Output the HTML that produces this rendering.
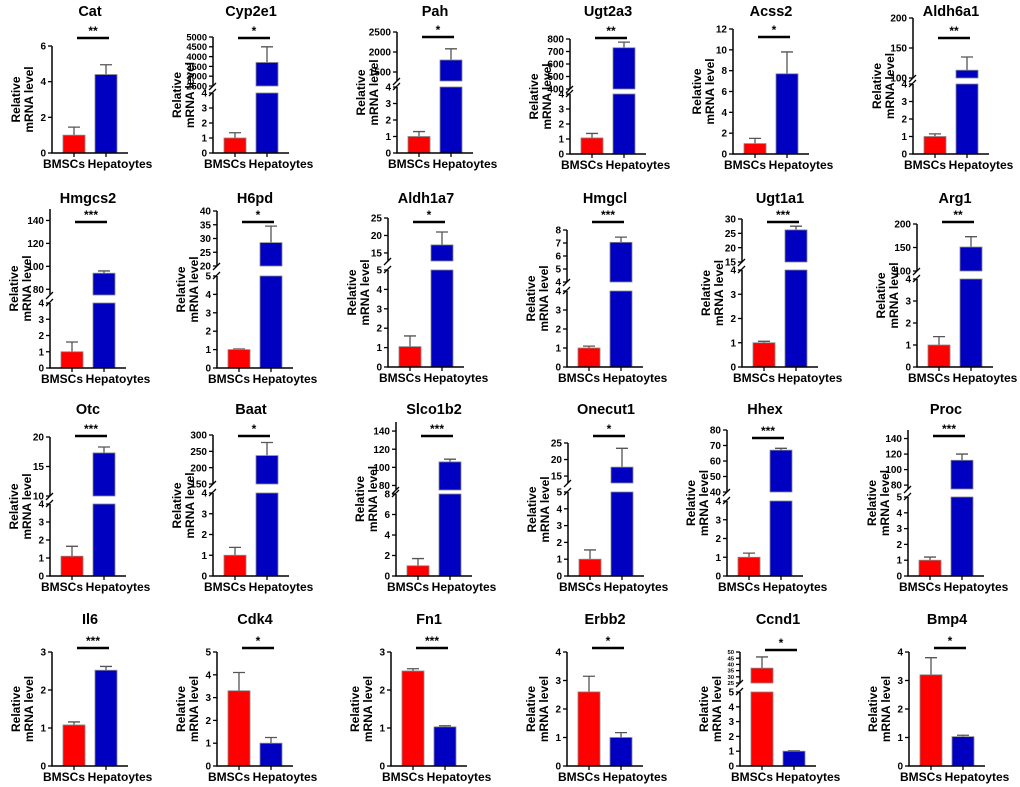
<!DOCTYPE html>
<html><head><meta charset="utf-8">
<style>
html,body{margin:0;padding:0;background:#fff;}
svg{display:block;font-family:"Liberation Sans",Arial,sans-serif;}
</style></head>
<body>
<svg id="fig" width="1020" height="787" viewBox="0 0 1020 787" xmlns="http://www.w3.org/2000/svg"></svg>
<script>
// ---- data ----
const genes = ["Cat","Cyp2e1","Pah","Ugt2a3","Acss2","Aldh6a1","Hmgcs2","H6pd","Aldh1a7","Hmgcl","Ugt1a1","Arg1","Otc","Baat","Slco1b2","Onecut1","Hhex","Proc","Il6","Cdk4","Fn1","Erbb2","Ccnd1","Bmp4"];
const sigs = ["**","*","*","**","*","**","***","*","*","***","***","**","***","*","***","*","***","***","***","*","***","*","*","*"];
const bmscMeans = [1.0,1.0,1.0,1.07,1.0,1.0,1.0,1.0,1.05,1.0,1.0,1.0,1.1,1.0,1.0,1.0,1.0,1.0,1.08,3.3,2.5,2.6,37,3.2];
const bmscErr   = [0.45,0.35,0.3,0.3,0.5,0.15,0.6,0.03,0.55,0.1,0.06,0.38,0.55,0.38,0.7,0.55,0.22,0.2,0.08,0.8,0.06,0.55,9,0.6];
const hepMeans  = [4.4,3700,1800,730,7.7,113,94,28.5,17.3,7.05,26.2,151,17.3,237,106,17.7,67,112,2.52,1.0,1.03,1.0,1.0,1.03];
const hepErr    = [0.55,800,280,45,2.1,22,2,6,3.7,0.4,1.3,22,1,40,3,5.7,1.2,8,0.1,0.25,0.03,0.17,0.03,0.05];
const lowMax  = [6,4,4,4,12,4,4,5,5,4,4,4,4,4,8,5,4,5,3,5,3,4,5,4];
const lowStep = [2,1,1,1,2,1,1,1,1,1,1,1,1,1,2,1,1,1,1,1,1,1,1,1];
const upMin = [null,2500,1275,400,null,100,75,20,12.7,4,15,100,10,150,75,12.9,40,75,null,null,null,null,25,null];
const upMax = [null,5000,2500,800,null,200,150,40,25,8,30,200,20,300,150,25,80,151,null,null,null,null,50,null];
const upTicks = [null,[2500,3000,3500,4000,4500,5000],[1500,2000,2500],[400,500,600,700,800],null,[100,150,200],[80,100,120,140],[20,25,30,35,40],[15,20,25],[4,5,6,7,8],[15,20,25,30],[100,150,200],[10,15,20],[150,200,250,300],[80,100,120,140],[15,20,25],[40,50,60,70,80],[80,100,120,140],null,null,null,null,[25,30,35,40,45,50],null];

// ---- layout (pixels) : axisX, topY, breakHiY, breakLoY, bottomY, sigY, titleY ----
const layout = [
 [52,46,null,null,153,38,16],[213,37,86,93,153,38,16],[397,32,81,87,153,37,16],[570,39,89,94,154,38,16],[733,29,null,null,154,37,16],[913,18,78,84,154,38,16],
 [50,209,295,303,368,222,203],[217,211,266,276,368,222,203],[388,218,261,270,367,222,203],[567,230,282,291,367,222,203],[742,219,262,270,367,222,203],[917,224,271,279,367,222,203],
 [50,437,496,504,576,436,414],[213,435,484,493,576,436,414],[396,422,490,494,576,436,414],[568,443,483,492,576,436,414],[727,430,492,501,576,438,414],[908,430,489,497,576,436,414],
 [52,652,null,null,766,648,624],[217,652,null,null,766,648,624],[391,652,null,null,766,648,624],[567,652,null,null,766,648,624],[740,652,683,692,766,650,624],[909,652,null,null,766,648,624]
];

const NS="http://www.w3.org/2000/svg";
const svg=document.getElementById('fig');
function mk(tag,attrs,parent,text){const e=document.createElementNS(NS,tag);for(const k in attrs)e.setAttribute(k,attrs[k]);if(text!==undefined)e.textContent=text;parent.appendChild(e);return e;}

genes.forEach((g,i)=>{
  const [ax,top,bh,bl,bot,sy,ty]=layout[i];
  const broken = upMin[i]!==null;
  const grp=mk('g',{},svg);
  
  
  const lowTop = broken?bl:top;
  const yLow=v=>bot-(v/lowMax[i])*(bot-lowTop);
  const yUp=v=>bh-((v-upMin[i])/(upMax[i]-upMin[i]))*(bh-top);
  const yAny=v=>{ if(!broken||v<=lowMax[i]) return yLow(Math.min(v,lowMax[i])); return yUp(Math.max(v,upMin[i])); };
  const t=mk('text',{x:ax+38,y:ty,'text-anchor':'middle','font-size':'14.5','font-weight':'bold',fill:'#000'},grp,g);
  
  
  const cy=(top+bot)/2;
  const yl=mk('text',{transform:`translate(${ax-32},${cy}) rotate(-90)`,'text-anchor':'middle','font-size':'12','font-weight':'bold',fill:'#000'},grp);
  
  
  mk('tspan',{x:0,dy:0},yl,'Relative');
  mk('tspan',{x:0,dy:13},yl,'mRNA level');
  const bars=[[ax+11,bmscMeans[i],bmscErr[i],'#ff0000','bmscs'],[ax+43,hepMeans[i],hepErr[i],'#0000c0','hepatocytes']];
  bars.forEach(([bx,v,e,col,nm])=>{
    const cx=bx+11;
    const ey=yAny(v+e), vy=yAny(v);
    const el=mk('path',{d:`M${cx},${vy} V${ey} M${cx-6},${ey} H${cx+6}`,stroke:'#555',fill:'none','stroke-width':'1.3'},grp);
    
    
    let r;
    if(broken && v>lowMax[i]){
      r=mk('rect',{x:bx,y:yAny(v),width:22,height:bh-yAny(v),fill:col,stroke:'#888','stroke-width':'0.8'},grp);
      
      
      r=mk('rect',{x:bx,y:lowTop,width:22,height:bot-lowTop,fill:col,stroke:'#888','stroke-width':'0.8'},grp);
    } else {
      r=mk('rect',{x:bx,y:yAny(v),width:22,height:bot-yAny(v),fill:col,stroke:'#888','stroke-width':'0.8'},grp);
    }
    
    
  });
  const axl=mk('path',{d:broken?`M${ax},${top} V${bh} M${ax},${bl} V${bot} H${ax+76}`:`M${ax},${top} V${bot} H${ax+76}`,stroke:'#000',fill:'none','stroke-width':'1.5'},grp);
  
  
  if(broken){
    const bk=mk('path',{d:`M${ax-4},${bh+4} L${ax+3},${bh-3} M${ax-4},${bl+3} L${ax+3},${bl-4}`,stroke:'#000','stroke-width':'1.3'},grp);
    
    
  }
  [['BMSCs',ax+22,ax+12],['Hepatoytes',ax+54,ax+68]].forEach(([lab,x,lx])=>{
    mk('line',{x1:x,y1:bot,x2:x,y2:bot+4,stroke:'#000','stroke-width':'1.3'},grp);
    const xt=mk('text',{x:lx,y:bot+15,'text-anchor':'middle','font-size':'12','font-weight':'bold',fill:'#000'},grp,lab);
    
    
  });
  for(let v=0;v<=lowMax[i]+1e-9;v+=lowStep[i]){
    const y=yLow(v);
    mk('line',{x1:ax-4,y1:y,x2:ax,y2:y,stroke:'#000','stroke-width':'1.3'},grp);
    const tl=mk('text',{x:ax-6,y:y+3.5,'text-anchor':'end','font-size':'10','font-weight':'bold',fill:'#000'},grp,String(v));
    
    
  }
  if(broken){
    const ut=upTicks[i];
    const spacing=Math.abs(yUp(ut[1])-yUp(ut[0]));
    const fs=Math.min(10,spacing*0.95);
    ut.forEach(v=>{
      const y=yUp(v);
      mk('line',{x1:ax-4,y1:y,x2:ax,y2:y,stroke:'#000','stroke-width':'1.3'},grp);
      const tl=mk('text',{x:ax-6,y:y+fs*0.36,'text-anchor':'end','font-size':fs.toFixed(1),'font-weight':'bold',fill:'#000'},grp,String(v));
      
      
    });
  }
  const sl=mk('line',{x1:ax+25,y1:sy,x2:ax+57,y2:sy,stroke:'#000','stroke-width':'2.5'},grp);
  
  
  const st=mk('text',{x:ax+41,y:sy-3,'text-anchor':'middle','font-size':'12','font-weight':'bold',fill:'#000'},grp,sigs[i]);
  
  
});
</script>
</body></html>
